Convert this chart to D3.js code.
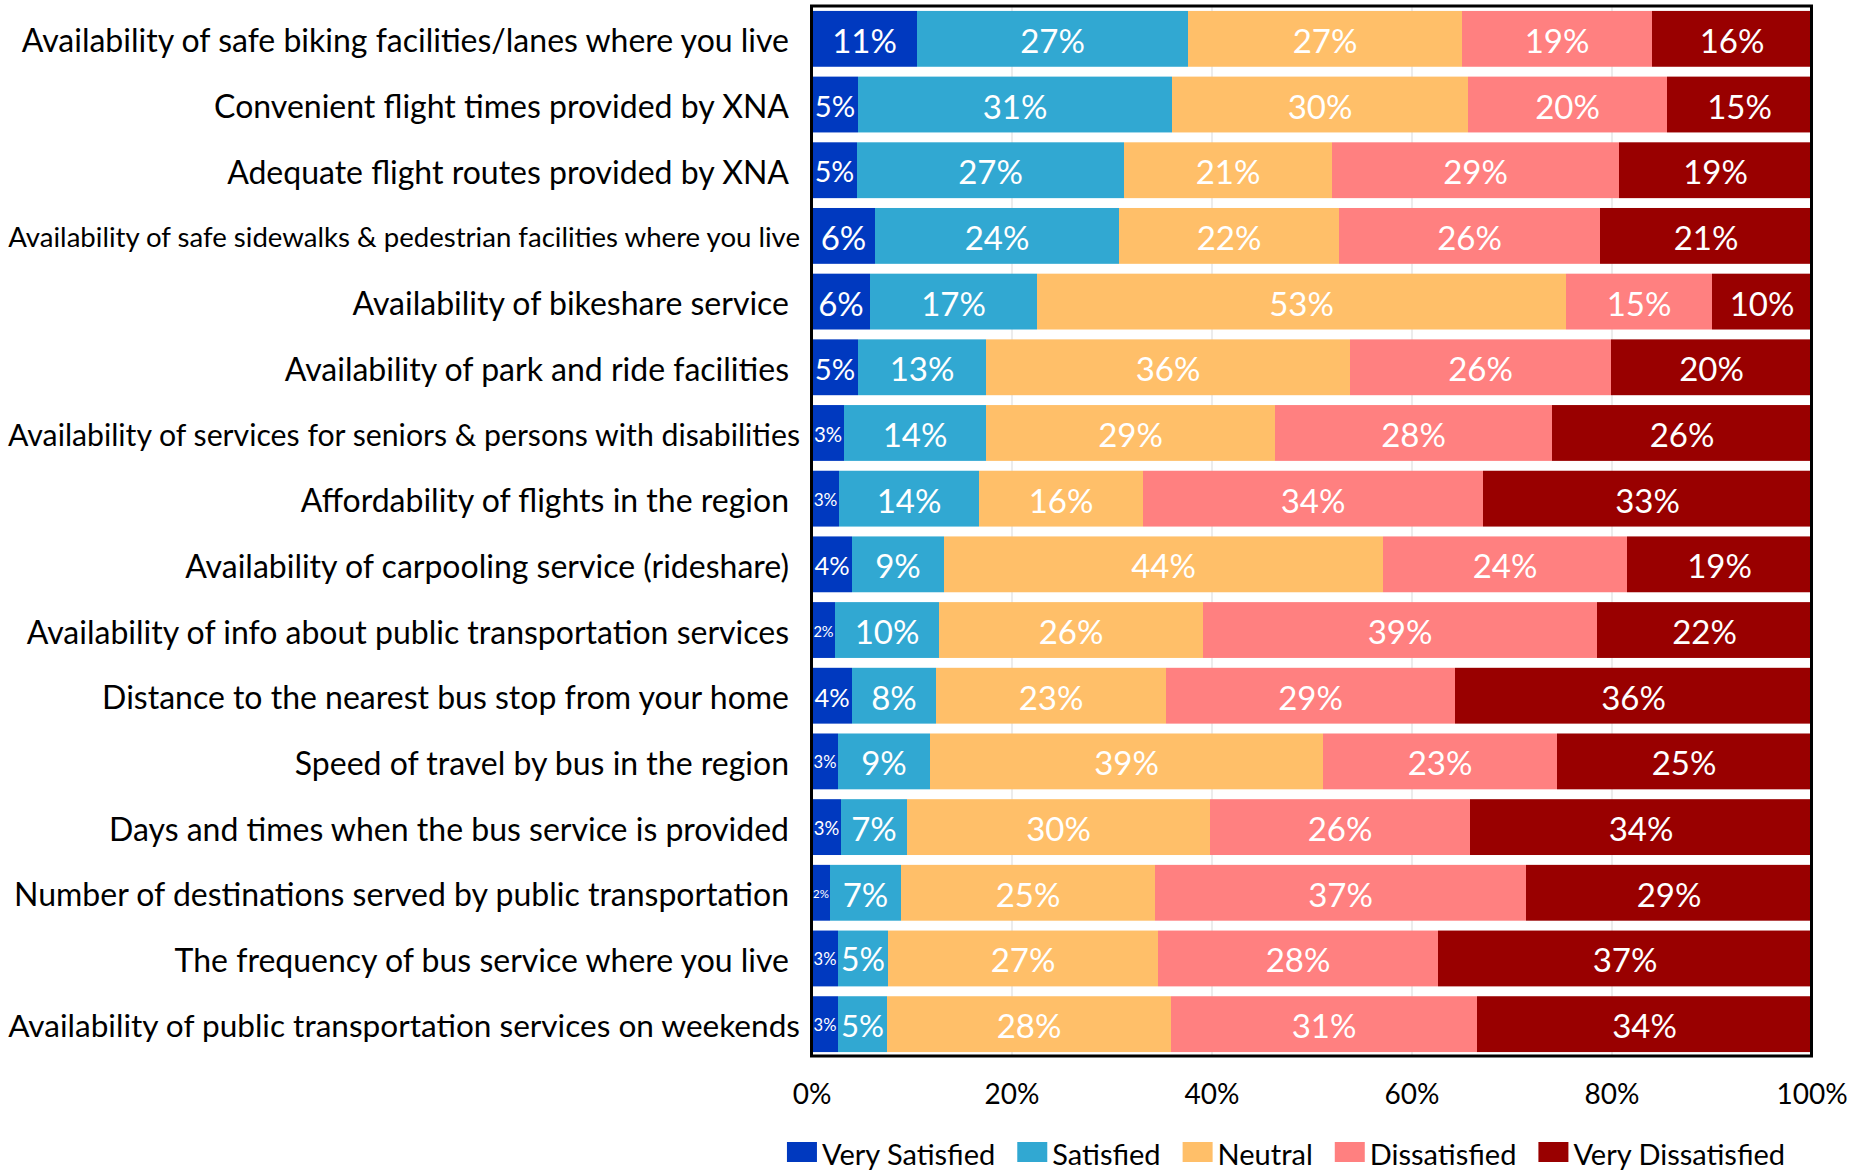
<!DOCTYPE html>
<html lang="en">
<head>
    <meta charset="UTF-8"/>
    <title>Satisfaction with transportation</title>
    <style>
        body { margin: 0; background: #fff; }
        text { font-family: Lato, "Open Sans", sans-serif; }
    </style>
</head>
<body>
<svg id="chart" width="1866" height="1171"></svg>

<script src="https://d3js.org/d3.v7.min.js"></script>
<script type="text/javascript">

    // categories, top to bottom
    var categories = [
        "Availability of safe biking facilities/lanes where you live",
        "Convenient flight times provided by XNA",
        "Adequate flight routes provided by XNA",
        "Availability of safe sidewalks & pedestrian facilities where you live",
        "Availability of bikeshare service",
        "Availability of park and ride facilities",
        "Availability of services for seniors & persons with disabilities",
        "Affordability of flights in the region",
        "Availability of carpooling service (rideshare)",
        "Availability of info about public transportation services",
        "Distance to the nearest bus stop from your home",
        "Speed of travel by bus in the region",
        "Days and times when the bus service is provided",
        "Number of destinations served by public transportation",
        "The frequency of bus service where you live",
        "Availability of public transportation services on weekends"
    ];

    var seriesNames = ["Very Satisfied", "Satisfied", "Neutral", "Dissatisfied", "Very Dissatisfied"];

    var verySatisfied    = [10.5, 4.6, 4.5, 6.3, 5.8, 4.6, 3.2, 2.7, 4.0, 2.3, 4.0, 2.6, 2.9, 1.8, 2.6, 2.6];
    var satisfied        = [27.1, 31.4, 26.7, 24.4, 16.7, 12.8, 14.2, 14.0, 9.2, 10.4, 8.4, 9.2, 6.6, 7.1, 5.0, 4.9];
    var neutral          = [27.4, 29.6, 20.8, 22.0, 52.9, 36.4, 28.9, 16.4, 43.9, 26.4, 23.0, 39.3, 30.3, 25.4, 27.0, 28.4];
    var dissatisfied     = [19.0, 19.9, 28.7, 26.1, 14.6, 26.1, 27.7, 34.0, 24.4, 39.4, 28.9, 23.4, 26.0, 37.1, 28.0, 30.6];
    var veryDissatisfied = [16.0, 14.5, 19.3, 21.2, 10.0, 20.1, 26.0, 32.9, 18.5, 21.5, 35.7, 25.4, 34.2, 28.6, 37.4, 33.5];

    var xTicks = [0, 20, 40, 60, 80, 100];

    var colors = ["#0039bf", "#31a8d2", "#ffbf69", "#ff8080", "#990000"];

    var svg = d3.select("#chart");

    var plot = {left: 812, right: 1812, top: 6, bottom: 1057};

    var rows = categories.map(function (c, i) {
        return {
            cat: c,
            "Very Satisfied": verySatisfied[i],
            "Satisfied": satisfied[i],
            "Neutral": neutral[i],
            "Dissatisfied": dissatisfied[i],
            "Very Dissatisfied": veryDissatisfied[i]
        };
    });

    var x = d3.scaleLinear().domain([0, 100]).range([plot.left, plot.right]);
    var y = d3.scaleBand().domain(categories).range([plot.top, plot.bottom])
        .paddingInner(0.15).paddingOuter(0.075);
    var color = d3.scaleOrdinal().domain(seriesNames).range(colors);

    // gridlines
    svg.append("g")
        .selectAll("line")
        .data(xTicks.slice(1, -1))
        .enter().append("line")
        .attr("x1", function (d) { return x(d); })
        .attr("x2", function (d) { return x(d); })
        .attr("y1", plot.top)
        .attr("y2", plot.bottom)
        .style("stroke", "#d9d9d9")
        .style("stroke-width", 1);

    var stacked = d3.stack().keys(seriesNames)(rows);

    var layers = svg.append("g")
        .selectAll("g")
        .data(stacked)
        .enter().append("g")
        .attr("fill", function (d) { return color(d.key); });

    layers.selectAll("rect")
        .data(function (d) { return d; })
        .enter().append("rect")
        .attr("x", function (d) { return x(d[0]); })
        .attr("width", function (d) { return x(d[1]) - x(d[0]); })
        .attr("y", function (d) { return y(d.data.cat); })
        .attr("height", y.bandwidth());

    // value labels, shrunk to fit narrow segments
    var baseSize = 33;
    layers.selectAll("text")
        .data(function (d) { return d; })
        .enter().append("text")
        .attr("x", function (d) { return (x(d[0]) + x(d[1])) / 2; })
        .attr("y", function (d) { return y(d.data.cat) + y.bandwidth() / 2 + 1; })
        .attr("text-anchor", "middle")
        .attr("dominant-baseline", "central")
        .attr("fill", "#fff")
        .style("font-size", baseSize + "px")
        .text(function (d) { return Math.round(d[1] - d[0]) + "%"; })
        .each(function (d) {
            var w = this.getComputedTextLength();
            var room = (x(d[1]) - x(d[0])) * 0.88;
            if (w > room) {
                d3.select(this).style("font-size", (baseSize * room / w) + "px");
            }
        });

    // category labels; long ones use the space up to the axis and shrink
    var catSize = 32, catRight = 789, catLeft = 8, longRight = 800;
    svg.append("g")
        .selectAll("text")
        .data(categories)
        .enter().append("text")
        .attr("x", catRight)
        .attr("y", function (d) { return y(d) + y.bandwidth() / 2 + 1; })
        .attr("text-anchor", "end")
        .attr("dominant-baseline", "central")
        .attr("fill", "#000")
        .style("font-size", catSize + "px")
        .text(function (d) { return d; })
        .each(function () {
            var w = this.getComputedTextLength();
            if (w > catRight - catLeft) {
                var room = Math.min(w, longRight - catLeft);
                d3.select(this)
                    .attr("x", longRight)
                    .style("font-size", (catSize * room / w) + "px");
            }
        });

    // x axis labels
    svg.append("g")
        .selectAll("text")
        .data(xTicks)
        .enter().append("text")
        .attr("x", function (d) { return x(d); })
        .attr("y", 1093)
        .attr("text-anchor", "middle")
        .attr("dominant-baseline", "central")
        .style("font-size", "28px")
        .text(function (d) { return d + "%"; });

    // frame
    svg.append("rect")
        .attr("x", plot.left - 0.5)
        .attr("y", plot.top)
        .attr("width", plot.right - plot.left)
        .attr("height", plot.bottom - plot.top - 1)
        .attr("fill", "none")
        .style("stroke", "#000")
        .style("stroke-width", 3);

    // legend
    var legend = svg.append("g");
    var lx = 0;
    seriesNames.forEach(function (name) {
        var item = legend.append("g").attr("transform", "translate(" + lx + ",0)");
        item.append("rect")
            .attr("x", 0).attr("y", -10)
            .attr("width", 30).attr("height", 20)
            .attr("fill", color(name));
        var t = item.append("text")
            .attr("x", 35).attr("y", 1)
            .attr("dominant-baseline", "central")
            .style("font-size", "29px")
            .text(name);
        lx += 35 + t.node().getComputedTextLength() + 22;
    });
    lx -= 22;
    legend.attr("transform", "translate(" + (1286 - lx / 2) + ",1152)");

</script>
</body>
</html>
